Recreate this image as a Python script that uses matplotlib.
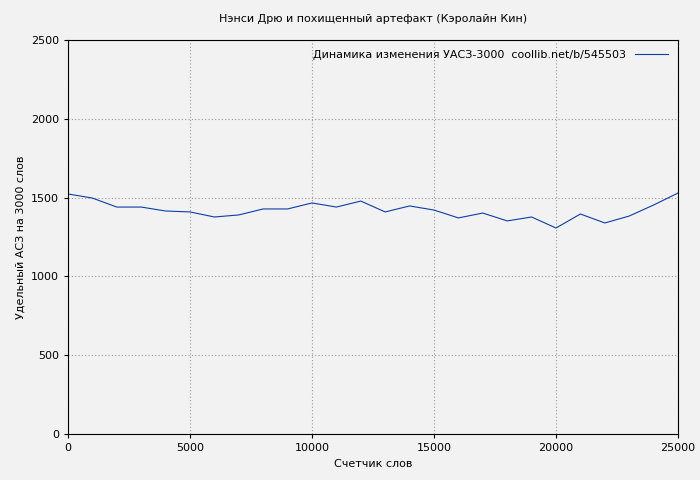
import matplotlib
matplotlib.use("Agg")
import matplotlib.pyplot as plt

words = [0,1000,2000,3000,4000,5000,6000,7000,8000,9000,10000,11000,12000,13000,14000,15000,16000,17000,18000,19000,20000,21000,22000,23000,24000,25000]
values = [1523,1497,1440,1440,1415,1409,1377,1390,1428,1428,1466,1440,1478,1409,1447,1421,1371,1402,1352,1377,1307,1396,1339,1383,1453,1529]

plt.rcParams['font.family'] = ['DejaVu Sans']
fig = plt.figure(figsize=(7, 4.8), dpi=100, facecolor='#f2f2f2')
ax = fig.add_axes([68/700, 1-434/480, 610/700, 394/480], facecolor='#f2f2f2')
ax.plot(words, values, color='#0a3ea8', lw=0.8, label='Динамика изменения УАСЗ-3000  coollib.net/b/545503')
ax.set_xlim(0, 25000)
ax.set_ylim(0, 2500)
ax.set_xticks(range(0, 25001, 5000))
ax.set_yticks(range(0, 2501, 500))
ax.grid(True, color='#999999', linestyle=(0, (1, 2)), lw=0.8)
ax.tick_params(labelsize=8, length=3)
ax.set_xlabel('Счетчик слов', fontsize=8)
ax.set_ylabel('Удельный АСЗ на 3000 слов', fontsize=8)
ax.set_title('Нэнси Дрю и похищенный артефакт (Кэролайн Кин)', fontsize=8, pad=13)
leg = ax.legend(loc='upper right', fontsize=8, frameon=False, markerfirst=False, handlelength=3)
fig.savefig('out.png', dpi=100, facecolor='#f2f2f2')
